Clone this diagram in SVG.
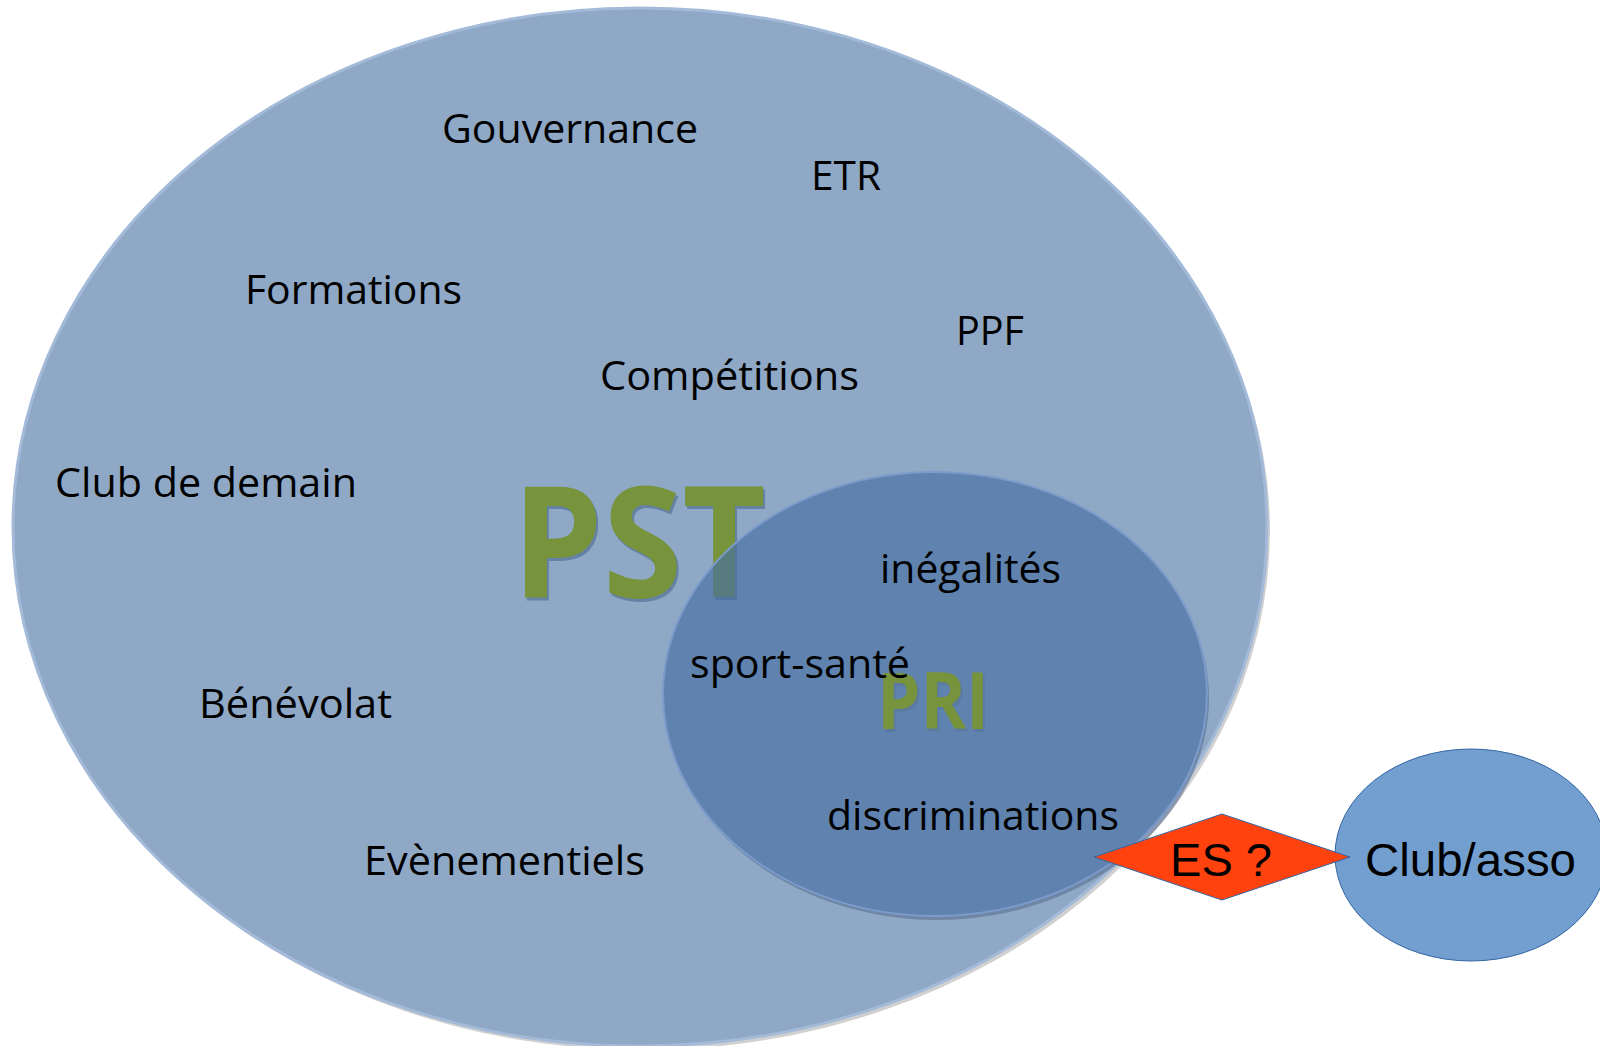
<svg xmlns="http://www.w3.org/2000/svg" width="1600" height="1046" viewBox="0 0 1600 1046">
<style>
.lbl{font-family:"Open Sans","Liberation Sans",sans-serif;font-size:40px;fill:#000}
.big{font-family:"Open Sans","Liberation Sans",sans-serif;font-weight:bold;fill:#77933C}
.shd{font-family:"Open Sans","Liberation Sans",sans-serif;font-weight:bold;fill:#5B789E;opacity:0.8}
.ar{font-family:"Liberation Sans",Arial,sans-serif;font-size:47px;fill:#000}
</style>
<defs>
<mask id="priShadowMask">
<rect width="1600" height="1046" fill="#fff"/>
<ellipse cx="935" cy="694" rx="272" ry="222" fill="#000"/>
</mask>
</defs>
<rect width="1600" height="1046" fill="#fff"/>
<g id="pst">
<ellipse cx="643" cy="531" rx="627" ry="519" fill="#D0D0D0"/>
<ellipse cx="640" cy="527" rx="627" ry="519" fill="#8EA8C5" stroke="#A3BAD8" stroke-width="3"/>
<text class="lbl" x="442" y="143" textLength="256" lengthAdjust="spacingAndGlyphs">Gouvernance</text>
<text class="lbl" x="811" y="190" textLength="70" lengthAdjust="spacingAndGlyphs">ETR</text>
<text class="lbl" x="245" y="304" textLength="217" lengthAdjust="spacingAndGlyphs">Formations</text>
<text class="lbl" x="956" y="345" textLength="68" lengthAdjust="spacingAndGlyphs">PPF</text>
<text class="lbl" x="600" y="390" textLength="259" lengthAdjust="spacingAndGlyphs">Compétitions</text>
<text class="lbl" x="55" y="497" textLength="302" lengthAdjust="spacingAndGlyphs">Club de demain</text>
<text class="lbl" x="199" y="718" textLength="193" lengthAdjust="spacingAndGlyphs">Bénévolat</text>
<text class="lbl" x="364" y="875" textLength="281" lengthAdjust="spacingAndGlyphs">Evènementiels</text>
<text class="shd" x="514" y="600" font-size="155" textLength="254" lengthAdjust="spacingAndGlyphs">PST</text>
<text class="big" x="512" y="597" font-size="155" textLength="254" lengthAdjust="spacingAndGlyphs">PST</text>
</g>
<g id="pri">
<ellipse cx="937" cy="698" rx="272" ry="222" fill="#55698A" fill-opacity="0.55" mask="url(#priShadowMask)"/>
<ellipse cx="935" cy="694" rx="272" ry="222" fill="#476FA1" fill-opacity="0.65" stroke="#7C9BCB" stroke-width="2"/>
<text class="lbl" x="880" y="583" textLength="181" lengthAdjust="spacingAndGlyphs">inégalités</text>
<text class="shd" x="879" y="732" font-size="78" textLength="112" lengthAdjust="spacingAndGlyphs">PRI</text>
<text class="big" x="877" y="729" font-size="78" textLength="112" lengthAdjust="spacingAndGlyphs">PRI</text>
<text class="lbl" x="690" y="678" textLength="220" lengthAdjust="spacingAndGlyphs">sport-santé</text>
<text class="lbl" x="827" y="830" textLength="292" lengthAdjust="spacingAndGlyphs">discriminations</text>
</g>
<g id="connectors"></g>
<g id="club">
<ellipse cx="1471" cy="855" rx="136" ry="106" fill="#729FCF" stroke="#3465A4" stroke-width="1"/>
<text class="ar" x="1365" y="876" textLength="211" lengthAdjust="spacingAndGlyphs">Club/asso</text>
</g>
<g id="es">
<polygon points="1094,857 1222,814 1350,857 1222,900" fill="#FF420E" stroke="#3465A4" stroke-width="1"/>
<text class="ar" x="1221" y="876" text-anchor="middle">ES ?</text>
</g>
</svg>
